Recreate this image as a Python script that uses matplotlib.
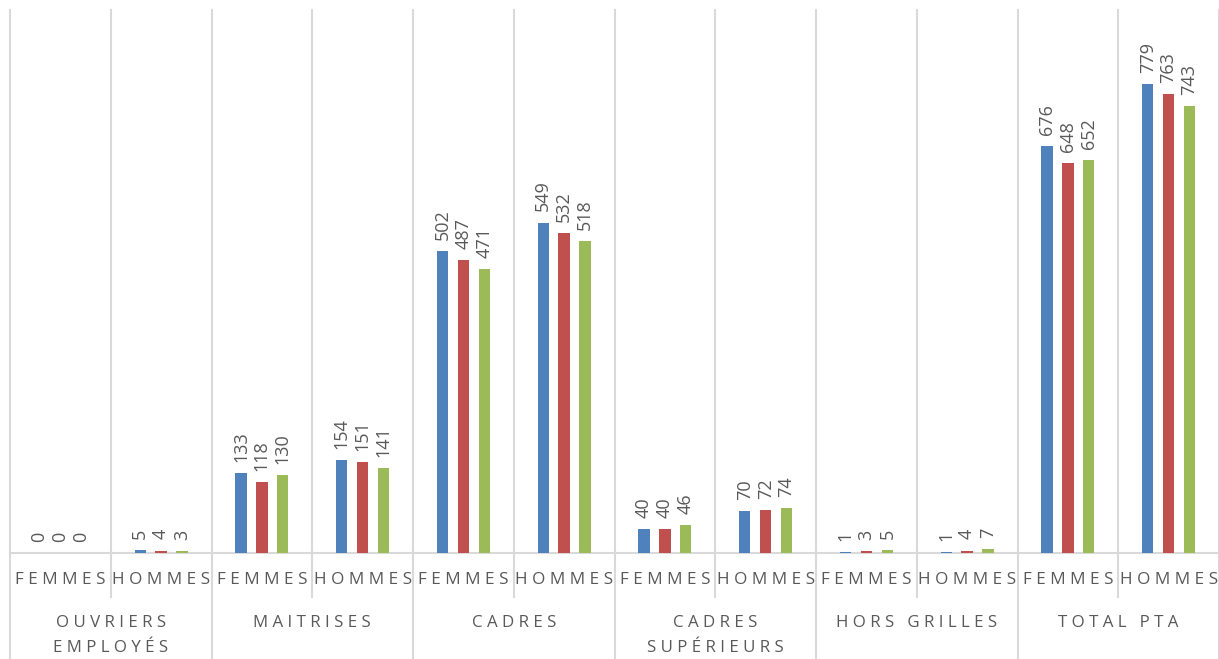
import matplotlib
matplotlib.use("Agg")
import matplotlib.pyplot as plt
import numpy as np
from matplotlib.transforms import blended_transform_factory

groups = ["OUVRIERS\nEMPLOYÉS", "MAITRISES", "CADRES", "CADRES\nSUPÉRIEURS", "HORS GRILLES", "TOTAL PTA"]
subcats = ["FEMMES", "HOMMES"]
series_a = [0, 5, 133, 154, 502, 549, 40, 70, 1, 1, 676, 779]
series_b = [0, 4, 118, 151, 487, 532, 40, 72, 3, 4, 648, 763]
series_c = [0, 3, 130, 141, 471, 518, 46, 74, 5, 7, 652, 743]
colors = ["#4F81BD", "#C0504D", "#9BBB59"]

W, H = 1219, 659
fig = plt.figure(figsize=(W / 100, H / 100), dpi=100)
x0, x1, ytop, ybase = 10, 1219, 10, 553
ax = fig.add_axes([x0 / W, (H - ybase) / H, (x1 - x0) / W, (ybase - ytop) / H])
n = len(series_a)
ax.set_xlim(0, n)
ax.set_ylim(0, 902)
ax.axis("off")

font = "Open Sans"
txtc = "#595959"
linec = "#D9D9D9"

def spaced(s):
    return "\n".join(" ".join(line) for line in s.split("\n"))

x = np.arange(n) + 0.5
offs = [-0.208, 0.0, 0.208]
bw = 0.112
for vals, off, c in zip([series_a, series_b, series_c], offs, colors):
    ax.bar(x + off, vals, width=bw, color=c, zorder=3)
    for xi, v in zip(x + off, vals):
        ax.annotate(str(v), (xi, v), xytext=(0, 8), textcoords="offset points",
                    rotation=90, ha="center", va="bottom", color=txtc,
                    fontsize=13, family=font)

# baseline
ax.plot([0, n], [0, 0], color=linec, lw=1.5, clip_on=False, zorder=2)

# vertical separators
tr = blended_transform_factory(ax.transData, fig.transFigure)
ytop_f = 1 - ytop / H
for i in range(n + 1):
    ylow = 0.0 if i % 2 == 0 else 1 - 597 / H
    ax.plot([i, i], [ylow, ytop_f], color=linec, lw=1.5, transform=tr, clip_on=False, zorder=1)

# sub-category labels
for i in range(n):
    ax.text(i + 0.5, 1 - 580 / H, spaced(subcats[i % 2]), transform=tr, ha="center", va="center",
            color=txtc, fontsize=12.3, family=font)

# group labels
for g, name in enumerate(groups):
    ax.text(2 * g + 1, 1 - 615 / H, spaced(name), transform=tr, ha="center", va="top",
            color=txtc, fontsize=12.2, family=font, linespacing=1.75)

fig.savefig("out.png", dpi=100)
